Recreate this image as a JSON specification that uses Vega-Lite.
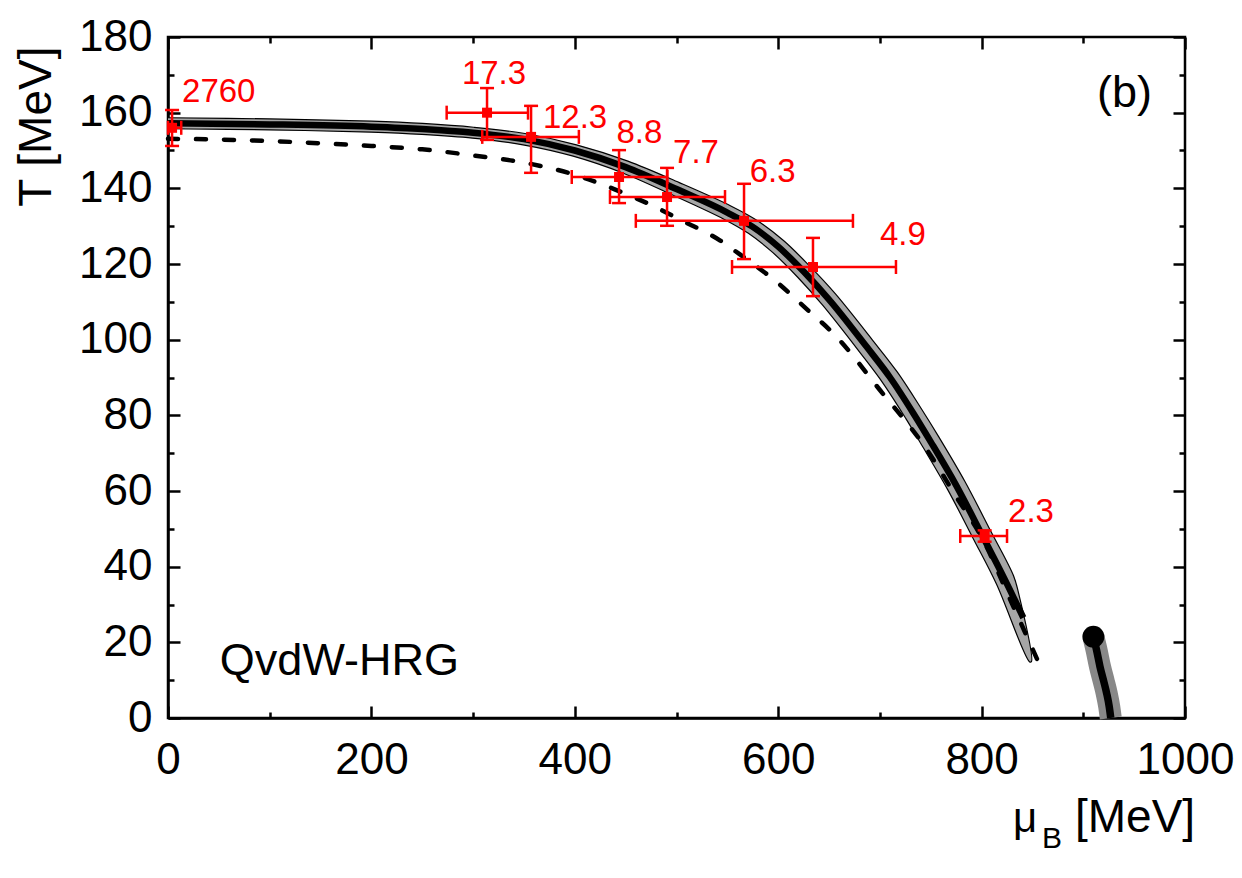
{
  "$schema": "https://vega.github.io/schema/vega-lite/v6.json",
  "autosize": {"type": "none"},
  "width": 1017,
  "height": 681,
  "padding": {"left": 168, "top": 37, "right": 57, "bottom": 160},
  "background": "white",
  "config": {
    "view": {"stroke": "black", "strokeWidth": 2.5},
    "font": "Liberation Sans"
  },
  "datasets": {
    "band": [
      {"o": 1, "mu": 0, "T": 158.65}, {"o": 2, "mu": 100, "T": 158.35}, {"o": 3, "mu": 200.2, "T": 157.75},
      {"o": 4, "mu": 250.3, "T": 157.15}, {"o": 5, "mu": 300.5, "T": 156.15}, {"o": 6, "mu": 350.9, "T": 154.5},
      {"o": 7, "mu": 401.6, "T": 151.5}, {"o": 8, "mu": 452.2, "T": 147.2}, {"o": 9, "mu": 502.8, "T": 141.5},
      {"o": 10, "mu": 553.4, "T": 135.35}, {"o": 11, "mu": 579.3, "T": 131.5}, {"o": 12, "mu": 605.2, "T": 126.2},
      {"o": 13, "mu": 630.8, "T": 119.5}, {"o": 14, "mu": 656.3, "T": 112.1}, {"o": 15, "mu": 693.9, "T": 99.5},
      {"o": 16, "mu": 717.2, "T": 91.4}, {"o": 17, "mu": 740.6, "T": 81.8}, {"o": 18, "mu": 757.9, "T": 74.3},
      {"o": 19, "mu": 783.2, "T": 62.7}, {"o": 20, "mu": 808.3, "T": 49.75}, {"o": 21, "mu": 831.4, "T": 37.6},
      {"o": 22, "mu": 836, "T": 33.4}, {"o": 23, "mu": 849, "T": 14.9}, {"o": 24, "mu": 847, "T": 14.9},
      {"o": 25, "mu": 814.6, "T": 35.4}, {"o": 26, "mu": 791.7, "T": 47.45}, {"o": 27, "mu": 766.8, "T": 60.3},
      {"o": 28, "mu": 742.1, "T": 71.7}, {"o": 29, "mu": 725.4, "T": 79.2}, {"o": 30, "mu": 702.8, "T": 88.6},
      {"o": 31, "mu": 680.1, "T": 96.7}, {"o": 32, "mu": 643.7, "T": 109.1}, {"o": 33, "mu": 619.2, "T": 116.5},
      {"o": 34, "mu": 594.8, "T": 123.0}, {"o": 35, "mu": 570.7, "T": 128.1}, {"o": 36, "mu": 546.6, "T": 131.85},
      {"o": 37, "mu": 497.2, "T": 138.1}, {"o": 38, "mu": 447.8, "T": 144.0}, {"o": 39, "mu": 398.4, "T": 148.5},
      {"o": 40, "mu": 349.1, "T": 151.5}, {"o": 41, "mu": 299.5, "T": 153.26}, {"o": 42, "mu": 249.7, "T": 154.25},
      {"o": 43, "mu": 199.8, "T": 154.85}, {"o": 44, "mu": 100, "T": 155.45}, {"o": 45, "mu": 0, "T": 155.75}
    ],
    "solid": [
      {"mu": 0, "T": 157.2}, {"mu": 100, "T": 156.9}, {"mu": 200, "T": 156.3}, {"mu": 250, "T": 155.7},
      {"mu": 300, "T": 154.7}, {"mu": 350, "T": 153.0}, {"mu": 400, "T": 150.0}, {"mu": 450, "T": 145.6},
      {"mu": 500, "T": 139.8}, {"mu": 550, "T": 133.6}, {"mu": 575, "T": 129.8}, {"mu": 600, "T": 124.6},
      {"mu": 625, "T": 118.0}, {"mu": 650, "T": 110.6}, {"mu": 687, "T": 98.1}, {"mu": 710, "T": 90.0},
      {"mu": 733, "T": 80.5}, {"mu": 750, "T": 73.0}, {"mu": 775, "T": 61.5}, {"mu": 800, "T": 48.6},
      {"mu": 823, "T": 36.5}, {"mu": 841, "T": 26.5}
    ],
    "dashed": [
      {"mu": 0, "T": 153.1}, {"mu": 50, "T": 152.9}, {"mu": 100, "T": 152.5}, {"mu": 150, "T": 151.9},
      {"mu": 200, "T": 151.2}, {"mu": 250, "T": 150.3}, {"mu": 300, "T": 148.7}, {"mu": 350, "T": 146.8},
      {"mu": 400, "T": 143.6}, {"mu": 444, "T": 139.2}, {"mu": 475, "T": 135.6}, {"mu": 503, "T": 131.8},
      {"mu": 543, "T": 126.2}, {"mu": 562, "T": 122.6}, {"mu": 600, "T": 114.9}, {"mu": 630, "T": 107.6},
      {"mu": 654, "T": 101.7}, {"mu": 700, "T": 86.7}, {"mu": 746, "T": 71.0}, {"mu": 775, "T": 58.5},
      {"mu": 801, "T": 47.3}, {"mu": 830, "T": 30.2}, {"mu": 855, "T": 15.3}
    ],
    "liquid": [
      {"mu": 909.9, "T": 21.5}, {"mu": 913, "T": 18.0}, {"mu": 916.4, "T": 13.6}, {"mu": 920, "T": 9.8},
      {"mu": 923, "T": 6.5}, {"mu": 925.5, "T": 3.0}, {"mu": 927, "T": 0}
    ],
    "cep": [{"mu": 909.9, "T": 21.5}],
    "exp": [
      {"lab": "2760", "mu": 4, "T": 156, "mulo": 0, "muhi": 13, "Tlo": 151.2, "Thi": 160.7, "lx": 13.8, "ly": 162.8},
      {"lab": "17.3", "mu": 313.7, "T": 160, "mulo": 274, "muhi": 354, "Tlo": 152.8, "Thi": 166.5, "lx": 289, "ly": 167.6},
      {"lab": "12.3", "mu": 357, "T": 153.6, "mulo": 309, "muhi": 404, "Tlo": 144.1, "Thi": 161.8, "lx": 368.7, "ly": 156.0},
      {"lab": "8.8", "mu": 443.5, "T": 143, "mulo": 397, "muhi": 491, "Tlo": 136.1, "Thi": 150.1, "lx": 441, "ly": 152},
      {"lab": "7.7", "mu": 490.7, "T": 137.7, "mulo": 434.6, "muhi": 547.7, "Tlo": 130.1, "Thi": 145.4, "lx": 496.6, "ly": 146.7},
      {"lab": "6.3", "mu": 566.4, "T": 131.4, "mulo": 460, "muhi": 673.5, "Tlo": 121.3, "Thi": 141.2, "lx": 572, "ly": 141.7},
      {"lab": "4.9", "mu": 634.2, "T": 119.2, "mulo": 554.6, "muhi": 715.8, "Tlo": 111.5, "Thi": 126.9, "lx": 700, "ly": 125},
      {"lab": "2.3", "mu": 803, "T": 48.1, "mulo": 779, "muhi": 825, "Tlo": 46.6, "Thi": 49.6, "lx": 826, "ly": 51.8}
    ],
    "notes": [
      {"txt": "(b)", "mu": 913.5, "T": 161.5},
      {"txt": "QvdW-HRG", "mu": 51, "T": 11.4}
    ],
    "xtitle": [
      {"txt": "μ", "mu": 830.9, "T": -30.1, "fs": 42},
      {"txt": "B", "mu": 859.4, "T": -34.4, "fs": 30},
      {"txt": "[MeV]", "mu": 891.8, "T": -30.1, "fs": 46}
    ]
  },
  "resolve": {"axis": {"x": "independent", "y": "independent"}},
  "layer": [
    {
      "data": {"name": "band"},
      "mark": {"type": "line", "fill": "#a6a6a6", "stroke": "black", "strokeWidth": 1.2, "interpolate": "catmull-rom"},
      "encoding": {
        "order": {"field": "o", "type": "quantitative"},
        "x": {"field": "mu", "type": "quantitative", "scale": {"domain": [0, 1000], "nice": false, "zero": false},
          "axis": {"orient": "bottom", "values": [0, 200, 400, 600, 800, 1000], "format": "d", "tickSize": -12, "tickWidth": 2.5, "tickColor": "black",
            "domain": true, "domainColor": "black", "domainWidth": 2.5, "grid": false,
            "labelFont": "Liberation Sans", "labelFontSize": 44, "labelColor": "black", "labelPadding": 32, "labelOverlap": false, "labelFlush": false,
            "title": null}},
        "y": {"field": "T", "type": "quantitative", "scale": {"domain": [0, 180], "nice": false, "zero": false},
          "axis": {"orient": "left", "values": [0, 20, 40, 60, 80, 100, 120, 140, 160, 180], "format": "d", "tickSize": -12, "tickWidth": 2.5, "tickColor": "black",
            "domain": true, "domainColor": "black", "domainWidth": 2.5, "grid": false,
            "labelFont": "Liberation Sans", "labelFontSize": 44, "labelColor": "black", "labelPadding": 28, "labelOverlap": false, "labelFlush": false,
            "title": "T [MeV]", "titleFont": "Liberation Sans", "titleFontSize": 46, "titleFontWeight": "normal", "titleColor": "black",
            "titleAnchor": "end", "titleY": 9, "titlePadding": 18}}
      }
    },
    {
      "data": {"name": "dashed"},
      "mark": {"type": "line", "color": "black", "strokeWidth": 4.5, "strokeDash": [10, 18], "strokeCap": "round", "interpolate": "monotone"},
      "encoding": {
        "x": {"field": "mu", "type": "quantitative", "scale": {"domain": [0, 1000], "nice": false, "zero": false},
          "axis": {"orient": "bottom", "values": [100, 300, 500, 700, 900], "tickSize": -6, "tickWidth": 2.5, "tickColor": "black",
            "domain": false, "labels": false, "grid": false, "title": null}},
        "y": {"field": "T", "type": "quantitative", "scale": {"domain": [0, 180], "nice": false, "zero": false},
          "axis": {"orient": "left", "values": [10, 30, 50, 70, 90, 110, 130, 150, 170], "tickSize": -6, "tickWidth": 2.5, "tickColor": "black",
            "domain": false, "labels": false, "grid": false, "title": null}}
      }
    },
    {
      "data": {"name": "solid"},
      "mark": {"type": "line", "color": "black", "strokeWidth": 6.5, "interpolate": "monotone"},
      "encoding": {
        "x": {"field": "mu", "type": "quantitative", "scale": {"domain": [0, 1000], "nice": false, "zero": false},
          "axis": {"orient": "top", "values": [0, 200, 400, 600, 800, 1000], "tickSize": -12, "tickWidth": 2.5, "tickColor": "black",
            "domain": false, "labels": false, "grid": false, "title": null}},
        "y": {"field": "T", "type": "quantitative", "scale": {"domain": [0, 180], "nice": false, "zero": false},
          "axis": {"orient": "right", "values": [0, 20, 40, 60, 80, 100, 120, 140, 160, 180], "tickSize": -12, "tickWidth": 2.5, "tickColor": "black",
            "domain": false, "labels": false, "grid": false, "title": null}}
      }
    },
    {
      "data": {"name": "liquid"},
      "mark": {"type": "line", "color": "#888888", "strokeWidth": 22, "interpolate": "monotone"},
      "encoding": {
        "x": {"field": "mu", "type": "quantitative", "scale": {"domain": [0, 1000], "nice": false, "zero": false},
          "axis": {"orient": "top", "values": [100, 300, 500, 700, 900], "tickSize": -6, "tickWidth": 2.5, "tickColor": "black",
            "domain": false, "labels": false, "grid": false, "title": null}},
        "y": {"field": "T", "type": "quantitative", "scale": {"domain": [0, 180], "nice": false, "zero": false},
          "axis": {"orient": "right", "values": [10, 30, 50, 70, 90, 110, 130, 150, 170], "tickSize": -6, "tickWidth": 2.5, "tickColor": "black",
            "domain": false, "labels": false, "grid": false, "title": null}}
      }
    },
    {
      "data": {"name": "liquid"},
      "mark": {"type": "line", "color": "black", "strokeWidth": 7.5, "interpolate": "monotone"},
      "encoding": {
        "x": {"field": "mu", "type": "quantitative", "scale": {"domain": [0, 1000], "nice": false, "zero": false}, "axis": null},
        "y": {"field": "T", "type": "quantitative", "scale": {"domain": [0, 180], "nice": false, "zero": false}, "axis": null}
      }
    },
    {
      "data": {"name": "cep"},
      "mark": {"type": "point", "shape": "circle", "filled": true, "color": "black", "size": 480, "opacity": 1},
      "encoding": {
        "x": {"field": "mu", "type": "quantitative", "scale": {"domain": [0, 1000], "nice": false, "zero": false}, "axis": null},
        "y": {"field": "T", "type": "quantitative", "scale": {"domain": [0, 180], "nice": false, "zero": false}, "axis": null}
      }
    },
    {
      "data": {"name": "exp"},
      "mark": {"type": "rule", "color": "red", "strokeWidth": 2.5},
      "encoding": {
        "x": {"field": "mulo", "type": "quantitative", "scale": {"domain": [0, 1000], "nice": false, "zero": false}, "axis": null},
        "x2": {"field": "muhi"},
        "y": {"field": "T", "type": "quantitative", "scale": {"domain": [0, 180], "nice": false, "zero": false}, "axis": null}
      }
    },
    {
      "data": {"name": "exp"},
      "mark": {"type": "rule", "color": "red", "strokeWidth": 2.5},
      "encoding": {
        "x": {"field": "mu", "type": "quantitative", "scale": {"domain": [0, 1000], "nice": false, "zero": false}, "axis": null},
        "y": {"field": "Tlo", "type": "quantitative", "scale": {"domain": [0, 180], "nice": false, "zero": false}, "axis": null},
        "y2": {"field": "Thi"}
      }
    },
    {
      "data": {"name": "exp"},
      "mark": {"type": "tick", "orient": "vertical", "color": "red", "size": 14, "thickness": 2.5, "opacity": 1},
      "encoding": {
        "x": {"field": "mulo", "type": "quantitative", "scale": {"domain": [0, 1000], "nice": false, "zero": false}, "axis": null},
        "y": {"field": "T", "type": "quantitative", "scale": {"domain": [0, 180], "nice": false, "zero": false}, "axis": null}
      }
    },
    {
      "data": {"name": "exp"},
      "mark": {"type": "tick", "orient": "vertical", "color": "red", "size": 14, "thickness": 2.5, "opacity": 1},
      "encoding": {
        "x": {"field": "muhi", "type": "quantitative", "scale": {"domain": [0, 1000], "nice": false, "zero": false}, "axis": null},
        "y": {"field": "T", "type": "quantitative", "scale": {"domain": [0, 180], "nice": false, "zero": false}, "axis": null}
      }
    },
    {
      "data": {"name": "exp"},
      "mark": {"type": "tick", "orient": "horizontal", "color": "red", "size": 14, "thickness": 2.5, "opacity": 1},
      "encoding": {
        "x": {"field": "mu", "type": "quantitative", "scale": {"domain": [0, 1000], "nice": false, "zero": false}, "axis": null},
        "y": {"field": "Tlo", "type": "quantitative", "scale": {"domain": [0, 180], "nice": false, "zero": false}, "axis": null}
      }
    },
    {
      "data": {"name": "exp"},
      "mark": {"type": "tick", "orient": "horizontal", "color": "red", "size": 14, "thickness": 2.5, "opacity": 1},
      "encoding": {
        "x": {"field": "mu", "type": "quantitative", "scale": {"domain": [0, 1000], "nice": false, "zero": false}, "axis": null},
        "y": {"field": "Thi", "type": "quantitative", "scale": {"domain": [0, 180], "nice": false, "zero": false}, "axis": null}
      }
    },
    {
      "data": {"name": "exp"},
      "mark": {"type": "point", "shape": "square", "filled": true, "color": "red", "size": 100, "opacity": 1},
      "encoding": {
        "x": {"field": "mu", "type": "quantitative", "scale": {"domain": [0, 1000], "nice": false, "zero": false}, "axis": null},
        "y": {"field": "T", "type": "quantitative", "scale": {"domain": [0, 180], "nice": false, "zero": false}, "axis": null}
      }
    },
    {
      "data": {"name": "exp"},
      "mark": {"type": "text", "color": "red", "font": "Liberation Sans", "fontSize": 33, "align": "left", "baseline": "alphabetic"},
      "encoding": {
        "text": {"field": "lab"},
        "x": {"field": "lx", "type": "quantitative", "scale": {"domain": [0, 1000], "nice": false, "zero": false}, "axis": null},
        "y": {"field": "ly", "type": "quantitative", "scale": {"domain": [0, 180], "nice": false, "zero": false}, "axis": null}
      }
    },
    {
      "data": {"name": "notes"},
      "mark": {"type": "text", "color": "black", "font": "Liberation Sans", "fontSize": 45, "align": "left", "baseline": "alphabetic"},
      "encoding": {
        "text": {"field": "txt"},
        "x": {"field": "mu", "type": "quantitative", "scale": {"domain": [0, 1000], "nice": false, "zero": false}, "axis": null},
        "y": {"field": "T", "type": "quantitative", "scale": {"domain": [0, 180], "nice": false, "zero": false}, "axis": null}
      }
    },
    {
      "data": {"name": "xtitle"},
      "mark": {"type": "text", "color": "black", "font": "Liberation Sans", "align": "left", "baseline": "alphabetic"},
      "encoding": {
        "text": {"field": "txt"},
        "size": {"field": "fs", "type": "quantitative", "scale": null},
        "x": {"field": "mu", "type": "quantitative", "scale": {"domain": [0, 1000], "nice": false, "zero": false}, "axis": null},
        "y": {"field": "T", "type": "quantitative", "scale": {"domain": [0, 180], "nice": false, "zero": false}, "axis": null}
      }
    }
  ]
}
